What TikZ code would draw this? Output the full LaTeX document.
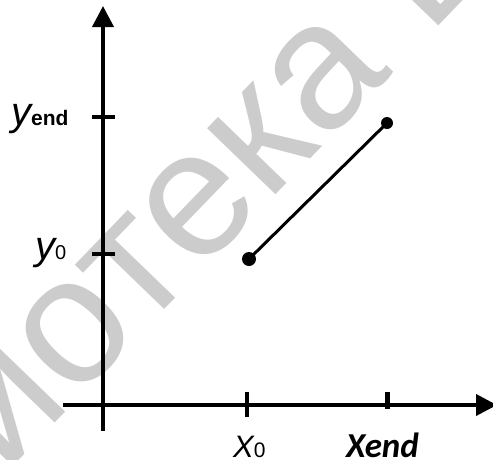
\documentclass[tikz,border=0pt]{standalone}
\usepackage{fontspec}
\setmainfont{Carlito}
\newfontfamily\wmfont{Liberation Sans}
\newfontfamily\subfont{Liberation Sans}
\usetikzlibrary{arrows.meta,positioning}
\tikzset{
  ax/.style={line width=3.8pt,-{Triangle[length=21pt,width=21pt]}},
  tk/.style={line width=3.5pt},
  seg/.style={line width=3pt},
  dt/.style={circle,fill=black,inner sep=0pt,minimum size=14pt},
  lbl/.style={inner sep=0pt,anchor=base west,font=\subfont\fontsize{40}{40}\selectfont\itshape},
  wm/.style={text=black!20,inner sep=0pt,font=\wmfont\fontsize{180}{180}\selectfont},
}
\newcommand{\sbn}[2]{{\upshape\subfont\fontsize{#1}{#1}\selectfont #2}}
\newcommand{\sbb}[1]{{\upshape\subfont\bfseries\fontsize{21}{21}\selectfont #1}}

\begin{document}
\begin{tikzpicture}[x=1pt,y=-1pt]
  \useasboundingbox (0,0) rectangle (493,459);
  % watermark
  \node[wm,rotate=46] (wm) at (214,171) {иотека Б};

  % axes
  \coordinate (o) at (103,405);
  \coordinate (ytop) at (103,6);
  \coordinate (ybot) at (103,431);
  \coordinate (xl) at (63,405);
  \coordinate (xr) at (497,405);
  \draw[ax] (ybot) -- (ytop);
  \draw[ax] (xl) -- (xr);

  % ticks
  \coordinate (ty1a) at (92,117);  \coordinate (ty1b) at (115,117);
  \coordinate (ty0a) at (92,254);  \coordinate (ty0b) at (115,254);
  \coordinate (tx0a) at (247,392); \coordinate (tx0b) at (247,417);
  \coordinate (tx1a) at (387,392); \coordinate (tx1b) at (387,409);
  \draw[tk] (ty1a) -- (ty1b);
  \draw[tk] (ty0a) -- (ty0b);
  \draw[tk] (tx0a) -- (tx0b);
  \draw[tk,line width=5pt] (tx1a) -- (tx1b);

  % segment
  \node[dt] (p0) at (249,259) {};
  \node[dt,minimum size=12pt] (p1) at (387,123) {};
  \draw[seg] (p0.center) -- (p1.center);

  % labels
  \node[lbl] (lyend) at (11,125) {y\sbb{end}};
  \node[lbl] (ly0) at (35,259) {y\sbn{20}{0}};
  \node[lbl,font=\subfont\fontsize{31}{31}\selectfont\itshape] (lx0) at (233,457) {X\sbn{21}{0}};
  \node[lbl,font=\fontsize{35}{35}\selectfont\bfseries\itshape] (lxend) at (346,457) {Xend};
\end{tikzpicture}
\end{document}
